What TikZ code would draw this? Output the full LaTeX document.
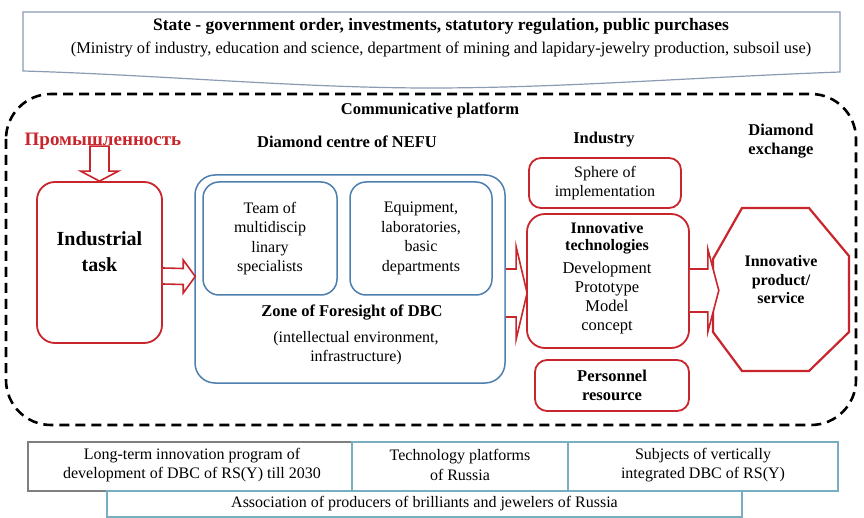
\documentclass[tikz,border=0pt]{standalone}
\usepackage{fontspec}
\setmainfont{Liberation Serif}
\usetikzlibrary{calc}
\definecolor{redc}{HTML}{C9252C}
\definecolor{bluec}{HTML}{4E7FAF}
\definecolor{topc}{HTML}{8B9BB4}
\definecolor{tealc}{HTML}{78AFC0}
\definecolor{grayc}{HTML}{7F7F7F}
\tikzset{
  txt/.style={font=\fontsize{16}{19.5}\selectfont, align=center, inner sep=0pt},
  btxt/.style={font=\fontsize{16.5}{19.5}\selectfont\bfseries, align=center, inner sep=0pt},
  redbox/.style={draw=redc, line width=1.8pt, rounded corners=12pt, fill=white, inner sep=0pt},
  bluebox/.style={draw=bluec, line width=1.5pt, rounded corners=16pt, inner sep=0pt},
  blockarrow/.style={draw=redc, line width=1.6pt, fill=white, line join=miter},
  cellbox/.style={draw=tealc, line width=1.2pt, inner sep=0pt, fill=white},
}
\begin{document}
\begin{tikzpicture}[x=1pt,y=-1pt]
\useasboundingbox (0,0) rectangle (864,518);
\fill[white] (0,0) rectangle (864,518);

% top state box (wavy bottom)
\draw[topc, line width=1.2pt, fill=white] (23,12) -- (840,12) -- (840,72)
  .. controls (680,78) and (560,88) .. (430,88)
  .. controls (300,88) and (160,75) .. (23,71) -- cycle;
\node[font=\fontsize{17.5}{20}\selectfont\bfseries, inner sep=0pt] (state) at (441,26) {State - government order, investments, statutory regulation, public purchases};
\node[txt, font=\fontsize{16.4}{19.5}\selectfont] (ministry) at (441,50) {(Ministry of industry, education and science, department of mining and lapidary-jewelry production, subsoil use)};

% communicative platform dashed border
\draw[black, line width=2.6pt, dash pattern=on 10pt off 6pt, rounded corners=45pt] (6,94) rectangle (856,425);
\node[btxt] (comm) at (430,110) {Communicative platform};

% Industrial task
\node[font=\fontsize{19}{22}\selectfont\bfseries, text=redc, inner sep=0pt] (prom) at (103,141) {Промышленность};
\node[redbox, rounded corners=18pt, minimum width=125pt, minimum height=161pt] (ind) at (99.5,262.5) {};
\node[font=\fontsize{20}{26}\selectfont\bfseries, align=center, inner sep=0pt] (indtxt) at (99.5,252) {Industrial\\task};

% arrow prom -> ind
\draw[blockarrow] ($(ind.north)+(-9.5,-35)$) -- ($(ind.north)+(9.5,-35)$) -- ($(ind.north)+(9.5,-10)$)
  -- ($(ind.north)+(19,-10)$) -- (ind.north) -- ($(ind.north)+(-19,-10)$) -- ($(ind.north)+(-9.5,-10)$) -- cycle;

% Diamond centre
\node[btxt] (dcl) at (347,142) {Diamond centre of NEFU};
\node[bluebox, rounded corners=20pt, minimum width=310pt, minimum height=208pt] (dc) at (350,279) {};
\node[bluebox, minimum width=134pt, minimum height=113pt, txt] (team) at (270,238.5) {Team of\\multidiscip\\linary\\specialists};
\node[bluebox, minimum width=142pt, minimum height=113pt, txt] (equip) at (421,238.5) {Equipment,\\laboratories,\\basic\\departments};
\node[btxt] (zone) at (352,313) {Zone of Foresight of DBC};
\node[txt] (intel) at (356,348) {(intellectual environment,\\infrastructure)};

% arrow ind -> dc
\coordinate (a2s) at ($(ind.east)+(0,13.5)$);
\coordinate (a2t) at ($(dc.west)+(1,-2.5)$);
\draw[blockarrow] ($(a2s)+(0,-8)$) -- ($(a2t)+(-12,-8)$) -- ($(a2t)+(-12,-16.5)$) -- (a2t)
  -- ($(a2t)+(-12,16.5)$) -- ($(a2t)+(-12,8)$) -- ($(a2s)+(0,8)$);

% Industry
\node[btxt] (indl) at (604,140) {Industry};
\node[redbox, minimum width=152pt, minimum height=50pt, txt] (sphere) at (605,183) {Sphere of\\implementation};
\node[redbox, rounded corners=18pt, minimum width=162pt, minimum height=134pt] (inno) at (608,281) {};
\node[btxt, font=\fontsize{16}{17.5}\selectfont\bfseries] (innot) at (607,238) {Innovative\\technologies};
\node[txt, font=\fontsize{16.5}{19}\selectfont] (dev) at (607,298.5) {Development\\Prototype\\Model\\concept};
\node[redbox, minimum width=154pt, minimum height=51pt, btxt] (pers) at (612,385.5) {Personnel\\resource};

% arrow dc -> inno
\coordinate (a3t) at ($(inno.west)+(1,12)$);
\draw[blockarrow] ($(dc.east |- a3t)+(0,-24)$) -- ($(a3t)+(-11,-24)$) -- ($(a3t)+(-11,-46.5)$) -- (a3t)
  -- ($(a3t)+(-11,46.5)$) -- ($(a3t)+(-11,24)$) -- ($(dc.east |- a3t)+(0,24)$);

% Diamond exchange
\node[btxt] (dex) at (781,141) {Diamond\\exchange};
\draw[redc, line width=2.2pt, fill=white, line join=miter] (742,208) -- (809,208) -- (849,256) -- (849,332) -- (809,371) -- (742,371) -- (713,332) -- (713,259) -- cycle;
\node[btxt, minimum width=136pt, minimum height=163pt] (oct) at (781,289.5) {};
\node[btxt, font=\fontsize{16}{18.5}\selectfont\bfseries] (prod) at (781,280) {Innovative\\product/\\service};

% arrow inno -> oct
\coordinate (a4t) at ($(oct.west)+(6,1)$);
\draw[blockarrow] ($(inno.east |- a4t)+(0,-21.5)$) -- ($(a4t)+(-11,-21.5)$) -- ($(a4t)+(-11,-41.5)$) -- (a4t)
  -- ($(a4t)+(-11,41.5)$) -- ($(a4t)+(-11,21.5)$) -- ($(inno.east |- a4t)+(0,21.5)$);

% bottom rows
\node[cellbox, draw=grayc, minimum width=324pt, minimum height=49pt] (ltp) at (190,466.5) {};
\node[txt] (ltpt) at (192,465) {Long-term innovation program of\\development of DBC of RS(Y) till 2030};
\node[cellbox, minimum width=216pt, minimum height=49pt] (tpr) at (460,466.5) {};
\node[txt] (tprt) at (460,465) {Technology platforms\\of Russia};
\node[cellbox, minimum width=270pt, minimum height=49pt] (svi) at (703,466.5) {};
\node[txt] (svit) at (703,465) {Subjects of vertically\\integrated DBC of RS(Y)};
\node[cellbox, minimum width=635pt, minimum height=26pt, txt] (assoc) at (424.5,504) {Association of producers of brilliants and jewelers of Russia};
\end{tikzpicture}
\end{document}
